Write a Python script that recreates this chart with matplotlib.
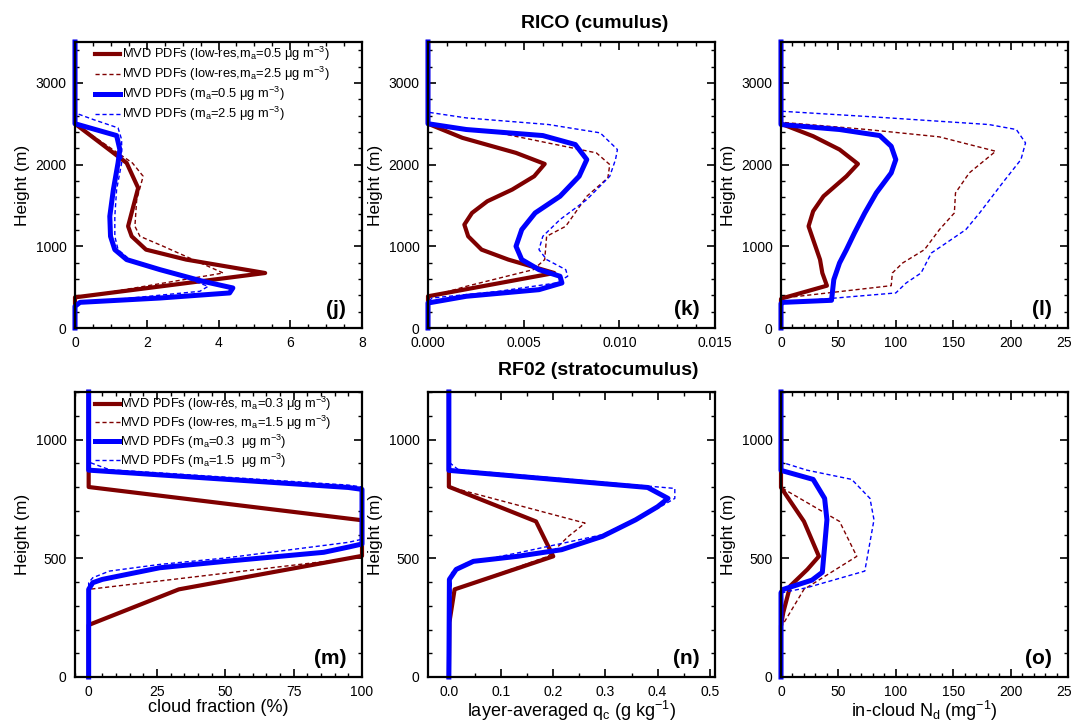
import matplotlib
matplotlib.use("Agg")
import matplotlib.pyplot as plt
from matplotlib.ticker import MultipleLocator, FormatStrFormatter

plt.rcParams['font.family'] = ['Liberation Sans', 'DejaVu Sans']
plt.rcParams['mathtext.fontset'] = 'custom'
plt.rcParams['mathtext.rm'] = 'Liberation Sans'
plt.rcParams['mathtext.it'] = 'Liberation Sans:italic'
plt.rcParams['mathtext.bf'] = 'Liberation Sans:bold'

# ---------------- RICO (cumulus) ----------------
# (j) cloud fraction (%)
j_lr05_z = [0, 300, 375, 673, 837, 959, 1122, 1245, 1714, 2020, 2500, 2800, 3500]
j_lr05_x = [0, 0, 0, 5.3, 3.1, 1.98, 1.58, 1.48, 1.76, 1.44, 0, 0, 0]
j_lr25_z = [0, 367, 673, 1000, 1122, 1245, 1571, 1857, 2020, 2500, 3500]
j_lr25_x = [0, 0, 4.13, 2.46, 1.81, 1.67, 1.72, 1.9, 1.6, 0, 0]
j_hr05_z = [0, 265, 314, 367, 429, 490, 571, 714, 837, 959, 1122, 1367, 1694, 2020, 2184, 2355, 2500, 3500]
j_hr05_x = [0, 0, 0.14, 2.37, 4.31, 4.4, 3.57, 2.37, 1.44, 1.11, 0.99, 0.97, 1.07, 1.2, 1.25, 1.16, 0, 0]
j_hr25_z = [0, 265, 306, 449, 510, 714, 837, 959, 1122, 1367, 1694, 2020, 2306, 2449, 2551, 2633, 3500]
j_hr25_x = [0, 0, 0.14, 3.48, 3.71, 2.46, 1.53, 1.2, 1.11, 1.11, 1.16, 1.3, 1.3, 1.2, 0.51, 0, 0]

# (k) layer-averaged qc (g/kg)
k_lr05_z = [0, 388, 673, 837, 959, 1122, 1265, 1408, 1551, 1694, 1857, 2008, 2143, 2327, 2500, 2800, 3500]
k_lr05_x = [0, 0, 0.0066, 0.0042, 0.0028, 0.0021, 0.0019, 0.0023, 0.0031, 0.0044, 0.00555, 0.0061, 0.0046, 0.0018, 0, 0, 0]
k_lr25_z = [0, 375, 510, 714, 837, 1122, 1245, 1612, 1837, 2000, 2143, 2388, 2500, 3500]
k_lr25_x = [0, 0, 0.002, 0.0055, 0.0061, 0.0062, 0.0072, 0.0083, 0.0094, 0.0095, 0.0088, 0.0037, 0, 0]
k_hr05_z = [0, 306, 388, 469, 551, 633, 714, 837, 1000, 1204, 1408, 1612, 1857, 2061, 2245, 2355, 2429, 2500, 3500]
k_hr05_x = [0, 0, 0.002, 0.0058, 0.007, 0.0069, 0.0058, 0.0049, 0.0046, 0.0049, 0.0056, 0.0069, 0.0079, 0.0083, 0.0077, 0.006, 0.002, 0, 0]
k_hr25_z = [0, 310, 367, 449, 551, 633, 714, 837, 959, 1122, 1327, 1571, 1857, 2061, 2184, 2388, 2490, 2571, 2641, 3500]
k_hr25_x = [0, 0, 0.0002, 0.0037, 0.0067, 0.0073, 0.0072, 0.0062, 0.0058, 0.006, 0.0069, 0.0083, 0.0095, 0.0098, 0.0099, 0.009, 0.0063, 0.002, 0, 0]

# (l) in-cloud Nd (1/mg)
l_lr05_z = [0, 355, 367, 518, 673, 837, 1122, 1245, 1429, 1612, 1857, 2008, 2184, 2347, 2500, 2800, 3500]
l_lr05_x = [0, 0, 2, 40, 36, 34, 27, 24, 28, 37, 57, 67, 51, 28, 0, 0, 0]
l_lr25_z = [0, 355, 367, 518, 673, 796, 959, 1204, 1408, 1653, 1898, 2163, 2339, 2429, 2518, 3500]
l_lr25_x = [0, 0, 2, 96, 97, 106, 125, 138, 151, 152, 164, 187, 138, 75, 0, 0]
l_hr05_z = [0, 300, 314, 339, 592, 796, 959, 1163, 1408, 1653, 1898, 2061, 2224, 2355, 2429, 2490, 3500]
l_hr05_x = [0, 0, 2, 44, 46, 51, 57, 64, 73, 83, 96, 100, 96, 86, 51, 0, 0]
l_hr25_z = [0, 300, 320, 429, 551, 673, 918, 1041, 1204, 1408, 1776, 2061, 2265, 2429, 2490, 2584, 2653, 3500]
l_hr25_x = [0, 0, 8, 100, 109, 122, 131, 144, 161, 173, 193, 209, 213, 205, 181, 80, 0, 0]

# ---------------- RF02 (stratocumulus) ----------------
# (m) cloud fraction (%)
m_lr03_z = [0, 219, 369, 510, 660, 800, 1200]
m_lr03_x = [0, 0, 33, 100, 100, 0, 0]
m_lr15_z = [0, 369, 505, 660, 800, 1200]
m_lr15_x = [0, 0, 100, 100, 0, 0]
m_hr03_z = [0, 369, 397, 411, 460, 487, 525, 547, 560, 790, 798, 871, 1200]
m_hr03_x = [0, 0, 1.5, 5, 26, 50, 86, 95, 100, 100, 95, 0, 0]
m_hr15_z = [0, 397, 418, 446, 474, 501, 567, 580, 800, 808, 873, 905, 1200]
m_hr15_x = [0, 0, 1.5, 7.6, 26, 50, 95, 100, 100, 95, 7.6, 0, 0]

# (n) layer-averaged qc (g/kg)
n_lr03_z = [0, 230, 369, 508, 655, 801, 1200]
n_lr03_x = [0, 0.001, 0.011, 0.2, 0.167, 0, 0]
n_lr15_z = [0, 230, 369, 508, 592, 648, 801, 1200]
n_lr15_x = [0, 0.001, 0.011, 0.19, 0.229, 0.261, 0, 0]
n_hr03_z = [0, 411, 453, 487, 508, 536, 592, 662, 717, 752, 798, 870, 1200]
n_hr03_x = [0, 0.001, 0.014, 0.047, 0.131, 0.216, 0.294, 0.358, 0.40, 0.42, 0.381, 0, 0]
n_hr15_z = [0, 439, 480, 522, 599, 710, 752, 794, 873, 905, 1200]
n_hr15_x = [0, 0.005, 0.034, 0.131, 0.294, 0.40, 0.433, 0.433, 0.018, 0, 0]

# (o) in-cloud Nd (1/mg)
o_lr03_z = [0, 216, 272, 383, 453, 508, 655, 798, 860, 1200]
o_lr03_x = [0, 0, 2, 8, 23, 33, 20, 0, 0, 0]
o_lr15_z = [0, 216, 369, 508, 655, 798, 1200]
o_lr15_x = [0, 1, 20, 66, 51, 0, 0]
o_hr03_z = [0, 355, 369, 408, 441, 550, 662, 752, 832, 870, 1200]
o_hr03_x = [0, 0, 2, 27, 36, 38, 40, 38, 28, 0, 0]
o_hr15_z = [0, 355, 376, 446, 662, 752, 832, 871, 905, 1200]
o_hr15_x = [0, 1, 22.5, 73, 81, 77.5, 61.6, 22.5, 0, 0]

rico_labels = [r"MVD PDFs (low-res,m$_\mathrm{a}$=0.5 μg m$^{-3}$)",
               r"MVD PDFs (low-res,m$_\mathrm{a}$=2.5 μg m$^{-3}$)",
               r"MVD PDFs (m$_\mathrm{a}$=0.5 μg m$^{-3}$)",
               r"MVD PDFs (m$_\mathrm{a}$=2.5 μg m$^{-3}$)"]
rf02_labels = [r"MVD PDFs (low-res, m$_\mathrm{a}$=0.3 μg m$^{-3}$)",
               r"MVD PDFs (low-res, m$_\mathrm{a}$=1.5 μg m$^{-3}$)",
               r"MVD PDFs (m$_\mathrm{a}$=0.3  μg m$^{-3}$)",
               r"MVD PDFs (m$_\mathrm{a}$=1.5  μg m$^{-3}$)"]

RED = '#7f0000'
BLUE = '#0000ff'
styles = [dict(color=RED, lw=3.0),
          dict(color=RED, lw=1.0, dashes=(3, 2)),
          dict(color=BLUE, lw=3.6),
          dict(color=BLUE, lw=1.0, dashes=(3, 2))]


def draw_panel(ax, series, labels, xlim, xmaj, xmin, xfmt, ymax, ymaj, ymin, tag, xlabel=None):
    for (x, z), st, lab in zip(series, styles, labels):
        ax.plot(x, z, label=lab, clip_on=False, solid_joinstyle='round', **st)
    ax.set_xlim(*xlim)
    ax.set_ylim(0, ymax)
    ax.xaxis.set_major_locator(MultipleLocator(xmaj))
    ax.xaxis.set_minor_locator(MultipleLocator(xmin))
    ax.xaxis.set_major_formatter(FormatStrFormatter(xfmt))
    ax.yaxis.set_major_locator(MultipleLocator(ymaj))
    ax.yaxis.set_minor_locator(MultipleLocator(ymin))
    ax.tick_params(which='both', direction='in', top=True, right=True, labelsize=10, pad=6)
    ax.tick_params(which='major', length=5.5, width=1.2)
    ax.tick_params(which='minor', length=3, width=1.0)
    for sp in ax.spines.values():
        sp.set_linewidth(1.6)
    ax.set_ylabel("Height (m)", fontsize=12.5)
    if xlabel:
        ax.set_xlabel(xlabel, fontsize=13, labelpad=0)
    ax.text(0.945, 0.03, tag, transform=ax.transAxes, ha='right', va='bottom',
            fontsize=15, fontweight='bold')


fig = plt.figure(figsize=(10.72, 7.22), dpi=100)
lefts = [75 / 1072, 428 / 1072, 781 / 1072]
w = 287 / 1072
top_ax = [fig.add_axes([l, 1 - 328 / 722, w, 286 / 722]) for l in lefts]
bot_ax = [fig.add_axes([l, 1 - 677 / 722, w, 285 / 722]) for l in lefts]

draw_panel(top_ax[0], [(j_lr05_x, j_lr05_z), (j_lr25_x, j_lr25_z), (j_hr05_x, j_hr05_z), (j_hr25_x, j_hr25_z)],
           rico_labels, (0, 8), 2, 0.5, '%g', 3500, 1000, 200, '(j)')
draw_panel(top_ax[1], [(k_lr05_x, k_lr05_z), (k_lr25_x, k_lr25_z), (k_hr05_x, k_hr05_z), (k_hr25_x, k_hr25_z)],
           rico_labels, (0, 0.015), 0.005, 0.001, '%.3f', 3500, 1000, 200, '(k)')
draw_panel(top_ax[2], [(l_lr05_x, l_lr05_z), (l_lr25_x, l_lr25_z), (l_hr05_x, l_hr05_z), (l_hr25_x, l_hr25_z)],
           rico_labels, (0, 250), 50, 10, '%g', 3500, 1000, 200, '(l)')
draw_panel(bot_ax[0], [(m_lr03_x, m_lr03_z), (m_lr15_x, m_lr15_z), (m_hr03_x, m_hr03_z), (m_hr15_x, m_hr15_z)],
           rf02_labels, (-5, 100), 25, 5, '%g', 1200, 500, 100, '(m)', 'cloud fraction (%)')
draw_panel(bot_ax[1], [(n_lr03_x, n_lr03_z), (n_lr15_x, n_lr15_z), (n_hr03_x, n_hr03_z), (n_hr15_x, n_hr15_z)],
           rf02_labels, (-0.04, 0.51), 0.1, 0.05, '%.1f', 1200, 500, 100, '(n)',
           r'layer-averaged q$_\mathrm{c}$ (g kg$^{-1}$)')
draw_panel(bot_ax[2], [(o_lr03_x, o_lr03_z), (o_lr15_x, o_lr15_z), (o_hr03_x, o_hr03_z), (o_hr15_x, o_hr15_z)],
           rf02_labels, (0, 250), 50, 10, '%g', 1200, 500, 100, '(o)',
           r'in-cloud N$_\mathrm{d}$ (mg$^{-1}$)')

top_ax[0].legend(loc='upper left', bbox_to_anchor=(0.07, 0.99), frameon=False, fontsize=9.3,
                 handlelength=1.9, handletextpad=0.2, labelspacing=0.15, borderpad=0, borderaxespad=0)
bot_ax[0].legend(loc='upper left', bbox_to_anchor=(0.07, 0.99), frameon=False, fontsize=9.3,
                 handlelength=1.9, handletextpad=0.0, labelspacing=0.05, borderpad=0, borderaxespad=0)

fig.text(0.555, 0.968, 'RICO (cumulus)', ha='center', va='center', fontsize=14, fontweight='bold')
fig.text(0.558, 0.487, 'RF02 (stratocumulus)', ha='center', va='center', fontsize=14, fontweight='bold')

fig.savefig('out.png', dpi=100)
